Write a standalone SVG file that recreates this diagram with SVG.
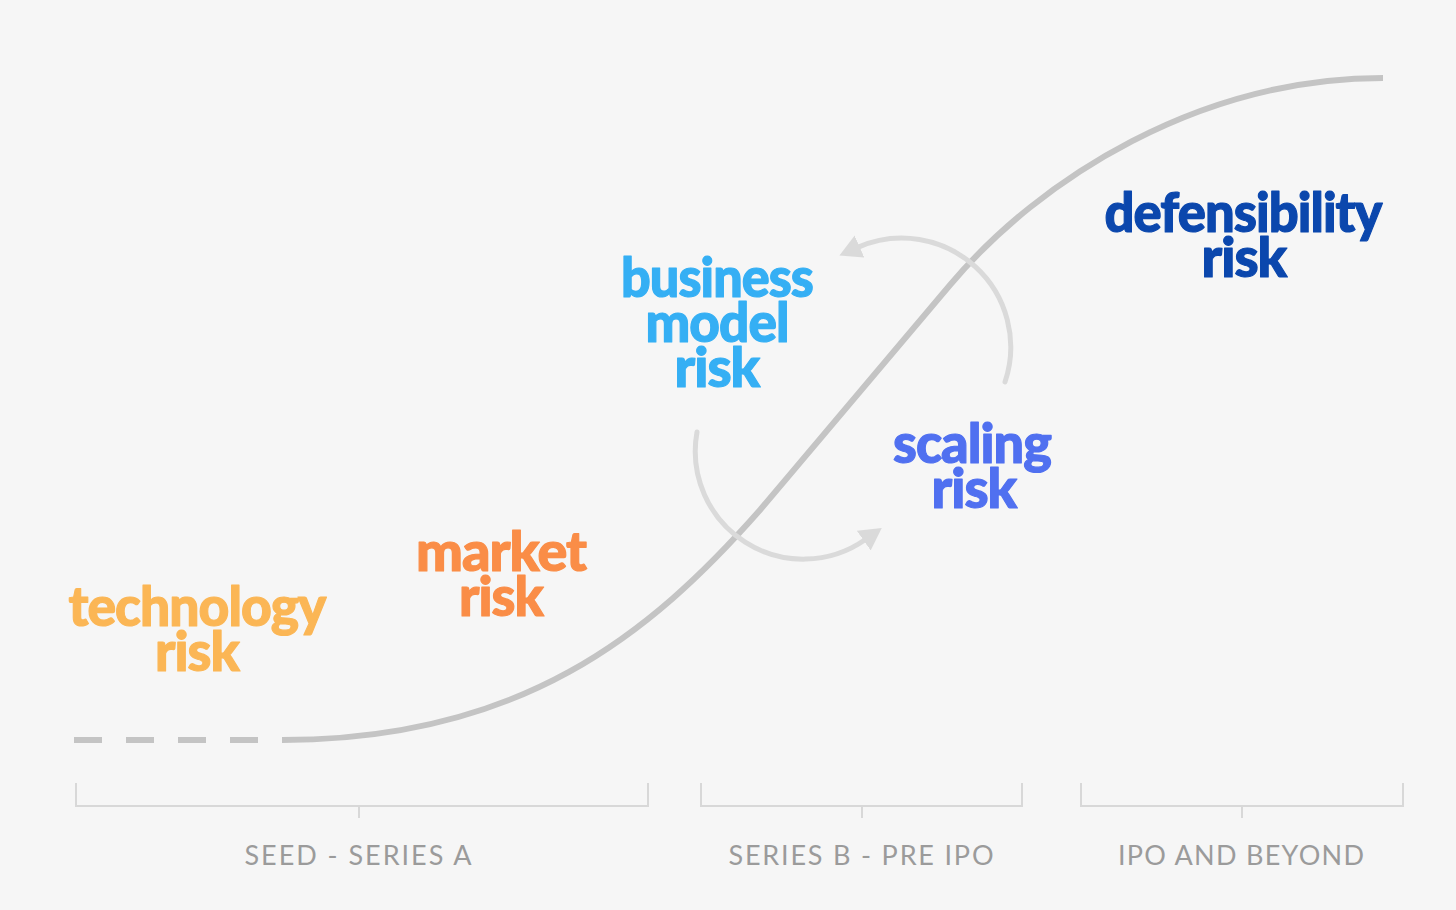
<svg xmlns="http://www.w3.org/2000/svg" width="1456" height="910" viewBox="0 0 1456 910">
<style>
.risk{font-family:"Lato","Liberation Sans",sans-serif;font-weight:900;font-size:56px;text-anchor:middle;letter-spacing:-1px;stroke-width:1.2px;stroke-linejoin:round}
.stage{font-family:"Lato","Liberation Sans",sans-serif;font-weight:400;font-size:27px;fill:#9b9b9b;text-anchor:middle;letter-spacing:2px}
.brk{fill:none;stroke:#d8d8d8;stroke-width:2}
.curve{fill:none;stroke:#c4c4c4;stroke-width:6}
.loop{fill:none;stroke:#dadada;stroke-width:5;stroke-linecap:round}
.t1{fill:#fbb655;stroke:#fbb655}
.t2{fill:#fa8d47;stroke:#fa8d47}
.t3{fill:#35aff4;stroke:#35aff4}
.t4{fill:#5070f0;stroke:#5070f0}
.t5{fill:#0b47ad;stroke:#0b47ad}
</style>
<defs>
<marker id="ah" markerUnits="userSpaceOnUse" markerWidth="30" markerHeight="30" refX="2" refY="12" orient="auto">
<path d="M0,0 L22,12 L0,24 Z" fill="#dadada"/>
</marker>
</defs>
<rect width="1456" height="910" fill="#f6f6f6"/>
<g id="connectors">
<path class="curve" d="M74,740 H258" stroke-dasharray="28 24"/>
<path class="curve" d="M282,740 C520,740 650,635 760,510 L950,285 C1040,178 1200,78 1383,78"/>
<path class="loop" d="M1005,382 A109,109 0 0 0 857.7,247.4" marker-end="url(#ah)"/>
<path class="loop" d="M697,432 A108,108 0 0 0 865.4,539.5" marker-end="url(#ah)"/>
</g>
<g id="technology-risk">
<text class="risk t1" x="197" y="626" textLength="257" lengthAdjust="spacingAndGlyphs">technology</text>
<text class="risk t1" x="197" y="671" textLength="84" lengthAdjust="spacingAndGlyphs">risk</text>
</g>
<g id="market-risk">
<text class="risk t2" x="501" y="571" textLength="170" lengthAdjust="spacingAndGlyphs">market</text>
<text class="risk t2" x="501" y="616" textLength="84" lengthAdjust="spacingAndGlyphs">risk</text>
</g>
<g id="business-model-risk">
<text class="risk t3" x="717" y="297" textLength="192" lengthAdjust="spacingAndGlyphs">business</text>
<text class="risk t3" x="717" y="342" textLength="143" lengthAdjust="spacingAndGlyphs">model</text>
<text class="risk t3" x="717" y="387" textLength="85" lengthAdjust="spacingAndGlyphs">risk</text>
</g>
<g id="scaling-risk">
<text class="risk t4" x="972" y="463" textLength="158" lengthAdjust="spacingAndGlyphs">scaling</text>
<text class="risk t4" x="974" y="508" textLength="85" lengthAdjust="spacingAndGlyphs">risk</text>
</g>
<g id="defensibility-risk">
<text class="risk t5" x="1243" y="232" textLength="277" lengthAdjust="spacingAndGlyphs">defensibility</text>
<text class="risk t5" x="1244" y="277" textLength="85" lengthAdjust="spacingAndGlyphs">risk</text>
</g>
<g id="seed-series-a">
<path class="brk" d="M76,783 V806 H648 V783 M359,806 V818"/>
<text class="stage" x="359" y="865" textLength="229">SEED - SERIES A</text>
</g>
<g id="series-b-pre-ipo">
<path class="brk" d="M701,783 V806 H1022 V783 M862,806 V818"/>
<text class="stage" x="862" y="865" textLength="267">SERIES B - PRE IPO</text>
</g>
<g id="ipo-and-beyond">
<path class="brk" d="M1081,783 V806 H1403 V783 M1242,806 V818"/>
<text class="stage" x="1242" y="865" textLength="248">IPO AND BEYOND</text>
</g>
</svg>
